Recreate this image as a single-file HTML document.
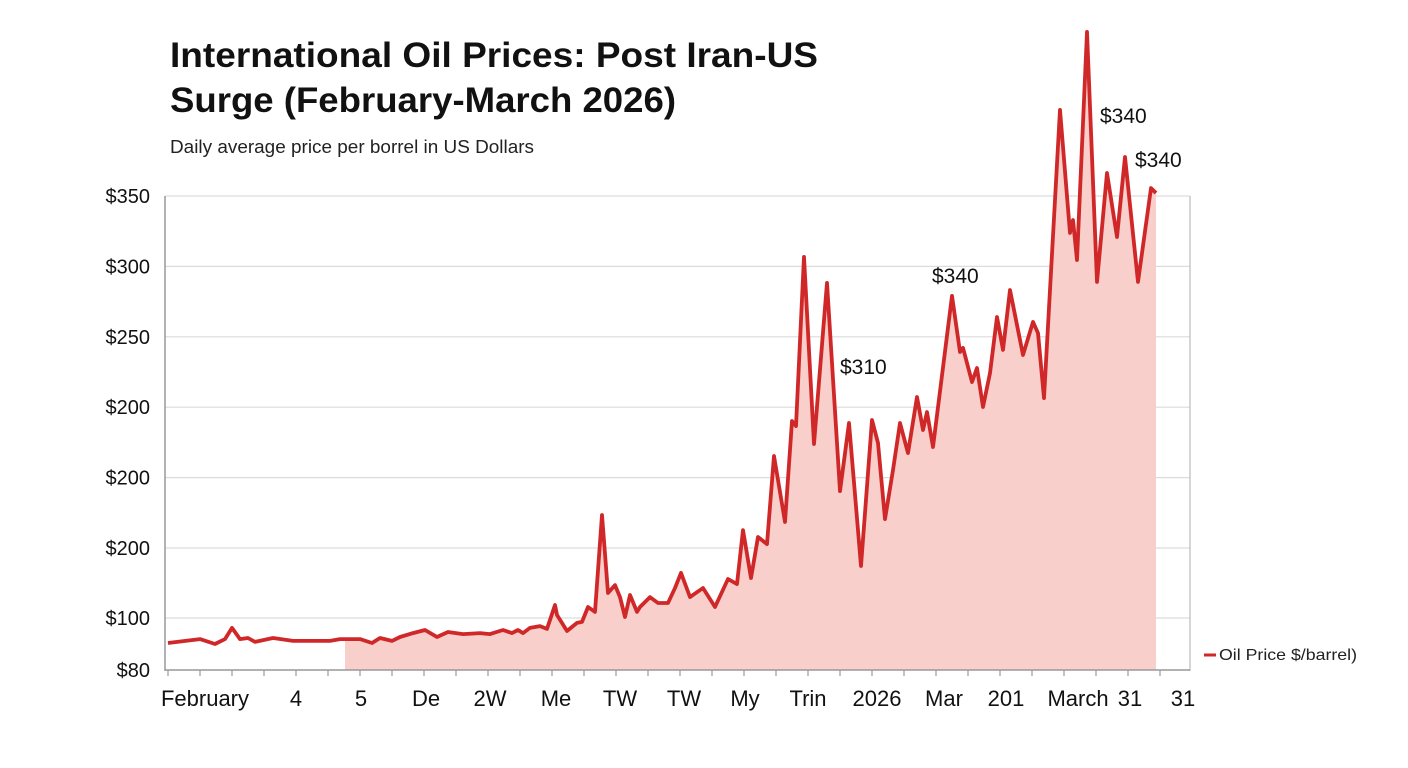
<!DOCTYPE html>
<html><head><meta charset="utf-8"><style>
body{margin:0;background:#fff;width:1408px;height:768px;overflow:hidden;font-family:"Liberation Sans",sans-serif}
svg{position:absolute;left:0;top:0}
</style></head><body>
<svg id="chart" width="1408" height="768" xmlns="http://www.w3.org/2000/svg">
<text x="170" y="67" font-size="35" font-weight="bold" fill="#111" textLength="648" lengthAdjust="spacingAndGlyphs">International Oil Prices: Post Iran-US</text>
<text x="170" y="112" font-size="35" font-weight="bold" fill="#111" textLength="506" lengthAdjust="spacingAndGlyphs">Surge (February-March 2026)</text>
<text x="170" y="153" font-size="18" fill="#222" textLength="364" lengthAdjust="spacingAndGlyphs">Daily average price per borrel in US Dollars</text>
<g id="grid"></g>
<g id="area"></g>
<g id="line"></g>
<g id="axes"></g>
<g id="ann"></g>
<g>
<line x1="1204" y1="655" x2="1216" y2="655" stroke="#d02828" stroke-width="3"/>
<text x="1219" y="660" font-size="16" fill="#222" textLength="138" lengthAdjust="spacingAndGlyphs">Oil Price $/barrel)</text>
</g>
</svg>
<script>
const days=[0,6.4,9.4,11.4,12.8,14.4,16,17.4,21,25,32.4,34.4,38.4,40.8,42.4,44.8,46.4,49,51.4,53.8,56,59,62.4,64.4,67,68.8,70,71,72.4,74.4,75.8,77.4,77.8,79.8,81.8,82.8,84,85.4,86.8,88,89.4,90.4,91.4,92.4,93.8,94.4,96.4,98,100,101.4,102.6,104.4,107,109.4,112,113.8,115,116.6,118,119.8,121.2,123.4,124.8,125.6,127.2,129.2,131.8,134.4,136.2,138.6,140.8,142,143.4,145,146.4,148,149.8,151,151.8,153,156.8,158.4,159,160.8,161.8,163,164.4,165.8,167,168.4,171,173,174,175.2,178.4,180.4,181,181.8,183.8,185.8,187.8,189.8,191.4,194,196.6,197.6];
const prices=[90.4,91.9,90,91.9,96.2,91.9,92.3,90.8,92.3,91.2,91.2,91.9,91.9,90.4,92.3,91.2,92.7,94.2,95.4,92.7,94.6,93.8,94.2,93.8,95.4,94.2,95.4,94.2,96.2,96.9,95.8,107.7,101.8,95,98.1,98.5,106.5,103.6,161,114.8,119.5,112.4,100.6,113.6,103.6,106.5,112.4,108.9,108.9,117.8,126.7,112.4,117.8,106.5,123.1,120.1,152.1,123.7,148,143.8,196,156.9,216.7,213.7,313.9,203.1,298.5,175.2,215.5,130.8,217.3,203.7,158.6,187.7,215.5,197.7,230.9,211.4,222,201.3,290.8,257.6,260,239.8,248.1,225,245.1,278.3,258.8,294.3,255.8,275.4,268.8,230.3,401,328.1,335.8,312.1,447.2,299.1,363.6,325.7,373.1,299.1,354.7,351.8];
const yTickValues=[350,300,250,200,150,100,80];
const yTickLabels=["$350","$300","$250","$200","$200","$200","$100","$80"];
const xTickLabels=["February","4","5","De","2W","Me","TW","TW","My","Trin","2026","Mar","201","March","31","31"];
const xTickDays=[7.4,25.6,38.6,51.6,64.4,77.6,90.4,103.2,115.4,128,141.8,155.2,167.6,182,192.4,203];
const annLabels=["$310","$340","$340","$340"];
const annDays=[134.4,156.8,183.8,196.6];
const annPrices=[175.2,290.8,447.2,354.7];
const fillStartDay=35.4;

const NS="http://www.w3.org/2000/svg";
function x(d){return 168+d*5;}
function y(v){return v>=100?618-(v-100)*1.688:618+(100-v)*2.6;}
function mk(tag,attrs,parent){const e=document.createElementNS(NS,tag);for(const k in attrs)e.setAttribute(k,attrs[k]);parent.appendChild(e);return e;}
const grid=document.getElementById('grid'),axes=document.getElementById('axes');
const gridY=[196,266.4,336.8,407.2,477.6,548,618];
gridY.forEach((gy,i)=>{
  const l=mk('line',{x1:165,x2:1190,y1:gy,y2:gy,stroke:'#dcdcdc','stroke-width':1.2},grid);
  
  
});
const yLabs=["$350","$300","$250","$200","$200","$200","$100"];
gridY.forEach((gy,i)=>{
  const t=mk('text',{x:150,y:gy+7,'font-size':20,'text-anchor':'end',fill:'#111'},axes);
  t.textContent=yLabs[i];
  
  
});
const t80=mk('text',{x:150,y:y(80)+7,'font-size':20,'text-anchor':'end',fill:'#111'},axes);
t80.textContent="$80";


mk('line',{x1:165,x2:165,y1:196,y2:671,stroke:'#999','stroke-width':1.5},axes);
mk('line',{x1:1190,x2:1190,y1:196,y2:671,stroke:'#bbb','stroke-width':1.2},axes);
mk('line',{x1:165,x2:1190,y1:670,y2:670,stroke:'#999','stroke-width':1.5},axes);
for(let tx=168;tx<=1190;tx+=32){mk('line',{x1:tx,x2:tx,y1:670,y2:676,stroke:'#999','stroke-width':1.2},axes);}
xTickLabels.forEach((lab,i)=>{
  const t=mk('text',{x:x(xTickDays[i]),y:706,'font-size':22,'text-anchor':'middle',fill:'#111'},axes);
  t.textContent=lab;
  
  
});
let dl=days.map((d,i)=>(i?'L':'M')+x(d).toFixed(1)+','+y(prices[i]).toFixed(1)).join('');
const defs=mk('defs',{},document.getElementById('chart'));
const cp=mk('clipPath',{id:'fillclip'},defs);
mk('rect',{x:x(fillStartDay),y:0,width:1408,height:670},cp);
const area=mk('path',{d:dl+'L'+x(days[days.length-1])+',670L'+x(days[0])+',670Z',fill:'#f9cfcc','clip-path':'url(#fillclip)'},document.getElementById('area'));


const line=mk('path',{d:dl,fill:'none',stroke:'#d02828','stroke-width':3.8,'stroke-linejoin':'round'},document.getElementById('line'));


const ann=document.getElementById('ann');
const annOff=[[0,-117],[-20,-13],[13,91],[-16,-21]];
annLabels.forEach((lab,i)=>{
  const t=mk('text',{x:x(annDays[i])+annOff[i][0],y:y(annPrices[i])+annOff[i][1],'font-size':21,fill:'#111'},ann);
  t.textContent=lab;
  
  
});
</script>
</body></html>
